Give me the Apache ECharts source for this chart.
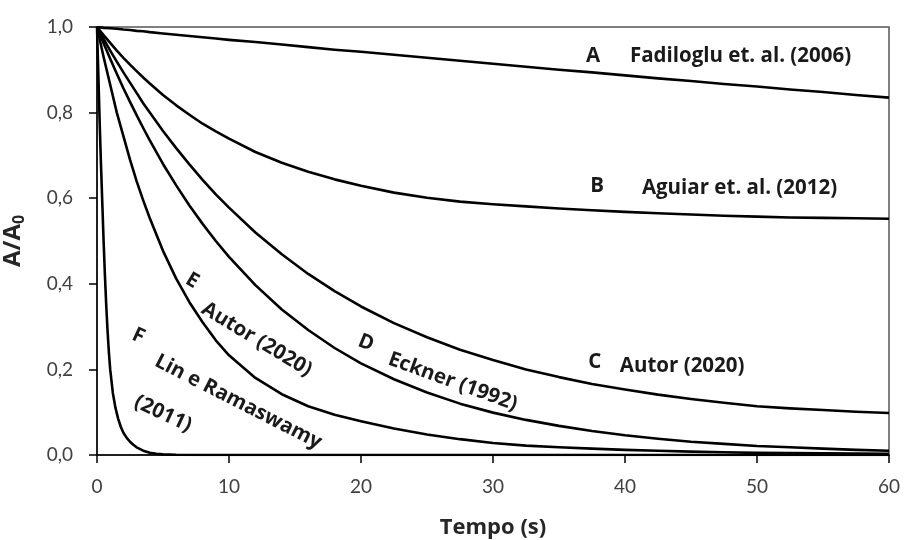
<!DOCTYPE html>
<html>
<head>
<meta charset="utf-8">
<script src="https://cdn.jsdelivr.net/npm/echarts@6/dist/echarts.min.js"></script>
<style>
html,body{margin:0;padding:0;background:#fff;}
#chart{width:904px;height:540px;}
</style>
</head>
<body>
<div id="chart"></div>
<script>
// ---- data ----
var timeMain = [0, 0.5, 1, 1.5, 2, 2.5, 3, 3.5, 4, 5, 6, 7, 8, 9, 10, 12, 14, 16, 18, 20, 22.5, 25, 27.5, 30, 32.5, 35, 37.5, 40, 42.5, 45, 47.5, 50, 52.5, 55, 57.5, 60];
var curveA = [1, 0.998, 0.997, 0.996, 0.994, 0.993, 0.991, 0.990, 0.988, 0.985, 0.982, 0.979, 0.976, 0.973, 0.970, 0.965, 0.959, 0.953, 0.947, 0.942, 0.935, 0.928, 0.921, 0.914, 0.907, 0.900, 0.894, 0.887, 0.880, 0.874, 0.867, 0.861, 0.854, 0.848, 0.841, 0.835];
var curveB = [1, 0.981, 0.963, 0.945, 0.928, 0.912, 0.897, 0.882, 0.868, 0.841, 0.817, 0.795, 0.774, 0.756, 0.739, 0.708, 0.683, 0.662, 0.644, 0.629, 0.613, 0.601, 0.592, 0.586, 0.581, 0.576, 0.572, 0.568, 0.565, 0.562, 0.559, 0.557, 0.555, 0.554, 0.553, 0.552];
var curveC = [1, 0.972, 0.945, 0.919, 0.894, 0.870, 0.846, 0.822, 0.800, 0.757, 0.717, 0.679, 0.643, 0.609, 0.578, 0.520, 0.469, 0.423, 0.383, 0.347, 0.308, 0.275, 0.246, 0.222, 0.200, 0.182, 0.166, 0.153, 0.141, 0.131, 0.122, 0.114, 0.109, 0.105, 0.101, 0.098];
var curveD = [1, 0.962, 0.926, 0.891, 0.857, 0.825, 0.794, 0.764, 0.735, 0.680, 0.630, 0.583, 0.540, 0.500, 0.463, 0.397, 0.340, 0.292, 0.250, 0.214, 0.177, 0.146, 0.120, 0.099, 0.082, 0.068, 0.056, 0.046, 0.038, 0.031, 0.026, 0.021, 0.018, 0.015, 0.012, 0.010];
var curveE = [1, 0.930, 0.865, 0.800, 0.745, 0.690, 0.640, 0.595, 0.553, 0.477, 0.412, 0.357, 0.310, 0.268, 0.233, 0.180, 0.142, 0.114, 0.094, 0.079, 0.062, 0.048, 0.037, 0.028, 0.022, 0.018, 0.015, 0.012, 0.010, 0.008, 0.0065, 0.005, 0.0045, 0.004, 0.0035, 0.003];
var timeF = [0, 0.1, 0.2, 0.3, 0.4, 0.5, 0.6, 0.7, 0.8, 0.9, 1.0, 1.2, 1.4, 1.6, 1.8, 2.0, 2.25, 2.5, 2.75, 3.0, 3.5, 4, 4.5, 5, 6, 8, 10, 20, 30, 40, 50, 60];
var curveF = [1, 0.89, 0.78, 0.68, 0.59, 0.50, 0.42, 0.35, 0.29, 0.24, 0.20, 0.145, 0.11, 0.085, 0.066, 0.052, 0.040, 0.031, 0.024, 0.018, 0.010, 0.005, 0.003, 0.0015, 0.0005, 0, 0, 0, 0, 0, 0, 0];

var xTicks = [0, 10, 20, 30, 40, 50, 60];
var yTicks = [0, 0.2, 0.4, 0.6, 0.8, 1.0];

// annotations: text, data position (t, A/A0), rotation (deg, clockwise), alignment
var annoText = ['A', 'Fadiloglu et. al. (2006)', 'B', 'Aguiar et. al. (2012)', 'C', 'Autor (2020)', 'D', 'Eckner (1992)', 'E', 'Autor (2020)', 'F', 'Lin e Ramaswamy', '(2011)'];
var annoT    = [37.58, 40.37, 37.88, 41.28, 37.72, 39.61, 20.38, 26.95, 7.21, 12.1, 3.13, 10.7, 5.0];
var annoV    = [0.933, 0.931, 0.629, 0.624, 0.217, 0.208, 0.262, 0.171, 0.407, 0.270, 0.278, 0.124, 0.096];
var annoRot  = [0, 0, 0, 0, 0, 0, 22, 20, 31, 31, 25, 27, 25];
var annoAlign= ['center', 'left', 'center', 'left', 'center', 'left', 'center', 'center', 'center', 'center', 'center', 'center', 'center'];

function pairs(xs, ys) { return xs.map(function (x, i) { return [x, ys[i]]; }); }

var chart = echarts.init(document.getElementById('chart'), null, { renderer: 'canvas' });
var FONT = 'Lato';
var TFONT = 'Open Sans';
var names = ['A', 'B', 'C', 'D', 'E', 'F'];
var allY = [curveA, curveB, curveC, curveD, curveE, curveF];
var series = names.map(function (n, i) {
  return {
    name: n, type: 'line',
    data: pairs(i === 5 ? timeF : timeMain, allY[i]),
    showSymbol: false, smooth: false,
    lineStyle: { color: '#000', width: 2.6, join: 'round' },
    silent: true, animation: false
  };
});

chart.setOption({
  animation: false,
  grid: { left: 97, right: 15, top: 27, bottom: 85, containLabel: false, outerBoundsMode: 'none',
    show: true, borderColor: '#555', borderWidth: 1.5, backgroundColor: 'transparent' },
  xAxis: {
    type: 'value', min: 0, max: 60, interval: 10,
    name: 'Tempo (s)', nameLocation: 'middle', nameGap: 62,
    nameTextStyle: { fontFamily: TFONT, fontSize: 22, fontWeight: 'bold', color: '#262626' },
    axisLine: { show: true, onZero: false, lineStyle: { color: '#000', width: 1.5 } },
    axisTick: { show: true, inside: false, length: 8, lineStyle: { color: '#000', width: 1.5 } },
    axisLabel: { fontFamily: FONT, fontSize: 19, color: '#404040', margin: 22 },
    splitLine: { show: false }
  },
  yAxis: {
    type: 'value', min: 0, max: 1, interval: 0.2,
    name: '{m|A/A}{s|0}', nameLocation: 'middle', nameGap: 70, nameRotate: 90,
    nameTextStyle: {
      rich: {
        m: { fontFamily: TFONT, fontSize: 24, fontWeight: 'bold', color: '#262626' },
        s: { fontFamily: TFONT, fontSize: 16, fontWeight: 'bold', color: '#262626', verticalAlign: 'bottom', padding: [11, 0, 0, 0] }
      }
    },
    axisLine: { show: true, onZero: false, lineStyle: { color: '#000', width: 1.5 } },
    axisTick: { show: true, inside: false, length: 8, lineStyle: { color: '#000', width: 1.5 } },
    axisLabel: { fontFamily: FONT, fontSize: 19, color: '#404040', margin: 24,
      formatter: function (v) { return v.toFixed(1).replace('.', ','); } },
    splitLine: { show: false }
  },
  series: series
});

var graphics = annoText.map(function (txt, i) {
  var p = chart.convertToPixel({ gridIndex: 0 }, [annoT[i], annoV[i]]);
  return {
    type: 'text', x: p[0], y: p[1], rotation: -annoRot[i] * Math.PI / 180,
    silent: true,
    style: { text: txt, fontFamily: TFONT, fontSize: 20.5, fontWeight: 'bold', fill: '#1a1a1a',
      textAlign: annoAlign[i], textVerticalAlign: 'middle' }
  };
});
chart.setOption({ graphic: graphics });
</script>
</body>
</html>
